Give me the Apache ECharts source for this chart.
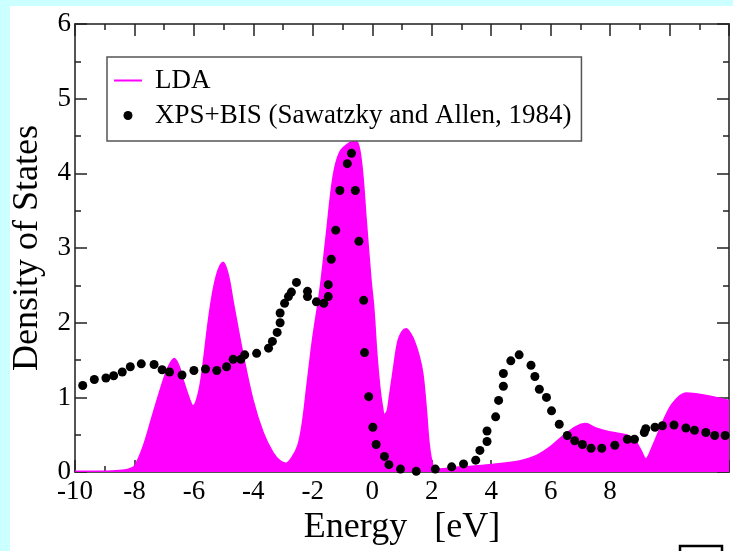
<!DOCTYPE html>
<html>
<head>
<meta charset="utf-8">
<script src="https://cdn.jsdelivr.net/npm/echarts@6/dist/echarts.min.js"></script>
<style>
  html, body { margin: 0; padding: 0; background: #ccffff; }
  #sheet { position: absolute; left: 10px; top: 6px; right: 0; bottom: 0; background: #ffffff; }
  #chart { position: absolute; left: 0; top: 0; width: 733px; height: 551px; }
</style>
</head>
<body>
<div id="sheet"></div>
<div id="chart"></div>
<script>
// LDA density of states: [energy (eV), DOS]
const ldaDos = [
  [-10, 0.01], [-9, 0.01], [-8.5, 0.02], [-8.2, 0.04], [-8.0, 0.08], [-7.7, 0.35],
  [-7.37, 0.79], [-7.03, 1.23], [-6.85, 1.42], [-6.66, 1.52], [-6.5, 1.42], [-6.36, 1.23],
  [-6.15, 0.98], [-6.03, 0.89], [-5.9, 0.98], [-5.75, 1.27], [-5.47, 2.15], [-5.25, 2.62],
  [-5.02, 2.81], [-4.85, 2.65], [-4.68, 2.28], [-4.35, 1.58], [-4.01, 0.96], [-3.67, 0.53],
  [-3.34, 0.26], [-3.1, 0.15], [-2.91, 0.12], [-2.7, 0.2], [-2.5, 0.36], [-2.35, 0.66],
  [-2.2, 1.15], [-2.0, 1.80], [-1.77, 2.41], [-1.55, 3.16], [-1.32, 3.95], [-1.10, 4.28],
  [-0.76, 4.41], [-0.54, 4.43], [-0.37, 4.17], [-0.2, 3.35], [-0.05, 2.6], [0.05, 2.2],
  [0.15, 1.6], [0.25, 1.15], [0.34, 0.88], [0.41, 0.77], [0.5, 0.82], [0.56, 0.96],
  [0.69, 1.32], [0.86, 1.75], [1.0, 1.88], [1.14, 1.92], [1.28, 1.86], [1.42, 1.75],
  [1.58, 1.55], [1.70, 1.32], [1.81, 0.88], [1.92, 0.35], [2.04, 0.09], [2.15, 0.04],
  [3.04, 0.07], [3.94, 0.10], [4.95, 0.15], [5.51, 0.22], [5.96, 0.33], [6.40, 0.48],
  [6.85, 0.61], [7.17, 0.65], [7.52, 0.59], [7.97, 0.54], [8.53, 0.50], [8.81, 0.44],
  [9.04, 0.29], [9.20, 0.18], [9.43, 0.35], [9.76, 0.66], [10.10, 0.92], [10.55, 1.06],
  [10.88, 1.05], [11.33, 1.02], [11.89, 0.97], [12, 0.96]
];

// XPS+BIS spectrum (Sawatzky and Allen, 1984): [energy (eV), intensity]
const xpsBis = [
  [-9.74, 1.16], [-9.35, 1.24], [-8.96, 1.26], [-8.70, 1.29], [-8.41, 1.34], [-8.14, 1.41],
  [-7.77, 1.45], [-7.34, 1.44], [-7.07, 1.37], [-6.82, 1.34], [-6.40, 1.30], [-6.00, 1.36],
  [-5.61, 1.38], [-5.23, 1.36], [-4.90, 1.41], [-4.68, 1.51], [-4.42, 1.51], [-4.29, 1.57],
  [-3.89, 1.59], [-3.49, 1.66], [-3.36, 1.75], [-3.20, 1.87], [-3.10, 2.00], [-3.10, 2.13],
  [-2.95, 2.26], [-2.82, 2.35], [-2.72, 2.41], [-2.55, 2.54], [-2.18, 2.42], [-2.18, 2.35],
  [-1.88, 2.28], [-1.63, 2.26], [-1.48, 2.35], [-1.48, 2.51], [-1.38, 2.85], [-1.23, 3.24],
  [-1.09, 3.77], [-0.84, 4.13], [-0.70, 4.27], [-0.57, 3.77], [-0.45, 3.09], [-0.29, 2.30],
  [-0.26, 1.60], [-0.12, 1.01], [0.02, 0.60], [0.13, 0.37], [0.41, 0.21], [0.56, 0.10],
  [0.95, 0.04], [1.48, 0.01], [2.12, 0.04], [2.67, 0.07], [3.07, 0.11], [3.48, 0.16],
  [3.62, 0.29], [3.86, 0.41], [3.86, 0.55], [4.15, 0.74], [4.25, 0.96], [4.41, 1.15],
  [4.41, 1.32], [4.66, 1.49], [4.94, 1.57], [5.34, 1.43], [5.47, 1.28], [5.62, 1.11],
  [5.86, 1.00], [6.03, 0.82], [6.29, 0.64], [6.56, 0.49], [6.81, 0.42], [7.07, 0.37],
  [7.36, 0.32], [7.72, 0.32], [8.16, 0.36], [8.58, 0.44], [8.82, 0.44], [9.15, 0.53],
  [9.20, 0.58], [9.51, 0.60], [9.76, 0.62], [10.15, 0.63], [10.55, 0.59], [10.84, 0.56],
  [11.22, 0.53], [11.52, 0.49], [11.87, 0.49]
];

const seriesNames = ['LDA', 'XPS+BIS (Sawatzky and Allen, 1984)'];
const xTitle = 'Energy   [eV]';
const yTitle = 'Density of States';
const xLastLabelled = 8;

const serif = 'Liberation Serif, Times New Roman, serif';
const frame = { onZero: false, lineStyle: { color: '#555', width: 2 } };
const majorTick = { show: true, inside: true, length: 12, lineStyle: { color: '#222', width: 1.5 } };
const minorTick = { show: true, splitNumber: 2, length: 6, lineStyle: { color: '#222', width: 1.5 } };

const chart = echarts.init(document.getElementById('chart'), null, { renderer: 'canvas' });

chart.setOption({
  animation: false,
  backgroundColor: 'transparent',
  grid: { left: 75, top: 24, right: 4, bottom: 71, containLabel: false },
  legend: {
    orient: 'vertical',
    left: 107,
    top: 57,
    padding: [10, 10, 12, 7],
    itemGap: 8,
    itemWidth: 28,
    itemHeight: 9,
    symbolKeepAspect: true,
    borderColor: '#555',
    borderWidth: 1.5,
    borderRadius: 0,
    backgroundColor: '#ffffff',
    textStyle: { fontFamily: serif, fontSize: 27, color: '#000', padding: [0, 0, 0, 8], lineHeight: 26 },
    data: [
      { name: seriesNames[0], icon: 'path://M0,0H28V2H0Z' },
      { name: seriesNames[1], icon: 'circle' }
    ]
  },
  xAxis: [
    {
      type: 'value', min: -10, max: 12, interval: 2,
      axisLine: frame, axisTick: majorTick, minorTick: minorTick, splitLine: { show: false },
      axisLabel: {
        fontFamily: serif, fontSize: 27, color: '#000', margin: 6,
        formatter: v => (v > xLastLabelled ? '' : String(v))
      },
      name: xTitle, nameLocation: 'middle', nameGap: 30,
      nameTextStyle: { fontFamily: serif, fontSize: 36, color: '#000' }
    },
    {
      type: 'value', position: 'top', min: -10, max: 12, interval: 2,
      axisLine: frame, axisTick: majorTick, minorTick: minorTick, splitLine: { show: false },
      axisLabel: { show: false }
    }
  ],
  yAxis: [
    {
      type: 'value', min: 0, max: 6, interval: 1,
      axisLine: frame, axisTick: majorTick, minorTick: minorTick, splitLine: { show: false },
      axisLabel: { fontFamily: serif, fontSize: 27, color: '#000', margin: 4 },
      name: yTitle, nameLocation: 'middle', nameGap: 23,
      nameTextStyle: { fontFamily: serif, fontSize: 36, color: '#000', padding: [0, 0, 6, 0] }
    },
    {
      type: 'value', position: 'right', min: 0, max: 6, interval: 1,
      axisLine: frame, axisTick: majorTick, minorTick: minorTick, splitLine: { show: false },
      axisLabel: { show: false }
    }
  ],
  series: [
    {
      name: seriesNames[0],
      type: 'line',
      data: ldaDos,
      smooth: 0.35,
      showSymbol: false,
      symbol: 'none',
      lineStyle: { color: '#ff00ff', width: 1.5 },
      itemStyle: { color: '#ff00ff' },
      areaStyle: { color: '#ff00ff', opacity: 1 },
      z: 2
    },
    {
      name: seriesNames[1],
      type: 'scatter',
      data: xpsBis,
      symbol: 'circle',
      symbolSize: 9,
      itemStyle: { color: '#000', opacity: 1 },
      z: 3
    }
  ],
  graphic: [
    {
      type: 'rect',
      shape: { x: 680, y: 546, width: 42, height: 20 },
      style: { fill: 'none', stroke: '#000', lineWidth: 2.5 },
      silent: true
    }
  ]
});
</script>
</body>
</html>
